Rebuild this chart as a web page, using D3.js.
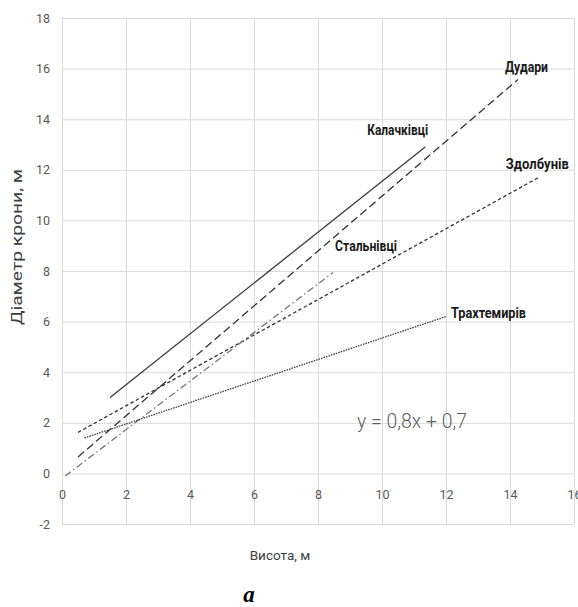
<!DOCTYPE html>
<html>
<head>
<meta charset="utf-8">
<script src="https://cdn.jsdelivr.net/npm/d3@7"></script>
<style>
  body { margin: 0; background: #fff; }
  svg { display: block; }
</style>
</head>
<body>
<figure id="chart" style="margin:0"></figure>
<script>
// tick values
const xTicks = [0, 2, 4, 6, 8, 10, 12, 14, 16];
const yTicks = [-2, 0, 2, 4, 6, 8, 10, 12, 14, 16, 18];

// trend lines: name, start [x, y], end [x, y]
const names = ["Калачківці", "Дудари", "Здолбунів", "Стальнівці", "Трахтемирів"];
const starts = [[1.5, 3.0], [0.5, 0.65], [0.5, 1.62], [0.1, -0.1], [0.7, 1.4]];
const ends = [[11.35, 12.9], [14.25, 15.57], [14.9, 11.7], [8.47, 7.94], [12.0, 6.2]];

const equation = "y = 0,8x + 0,7";

// styling per line (kept apart from the data)
const dashes = [null, "8,4", "3.5,2.5", "7,3,1.5,3", "1.6,1"];
const strokes = ["#3a3a3a", "#333", "#333", "#777", "#444"];
const labelDx = [3, -13, -33, 2, 5];
const labelDy = [-12, -7, -8, -22, 1];
const labelAnchor = ["end", "start", "start", "start", "start"];
const labelLen = [61, 43, 63, 62, 75];

const W = 578, H = 607;
const svg = d3.select("#chart").append("svg")
  .attr("width", W).attr("height", H);
svg.append("rect").attr("width", W).attr("height", H).attr("fill", "#fff");

const x = d3.scaleLinear().domain([0, 16]).range([62, 574]);
const y = d3.scaleLinear().domain([-2, 18]).range([524, 18]);

// gridlines
svg.append("g")
  .attr("transform", "translate(0," + y(-2) + ")")
  .call(d3.axisBottom(x).tickValues(xTicks).tickSize(-(y(-2) - y(18))).tickFormat(""))
  .call(g => g.select(".domain").remove())
  .call(g => g.selectAll("line").attr("stroke", "#d9d9d9"));
svg.append("g")
  .attr("transform", "translate(" + x(0) + ",0)")
  .call(d3.axisLeft(y).tickValues(yTicks).tickSize(-(x(16) - x(0))).tickFormat(""))
  .call(g => g.select(".domain").remove())
  .call(g => g.selectAll("line").attr("stroke", "#d9d9d9"));

// tick labels (plain hyphen for negatives, as in Excel)
const fmt = d => String(d);
svg.append("g")
  .attr("transform", "translate(0," + y(0) + ")")
  .call(d3.axisBottom(x).tickValues(xTicks).tickFormat(fmt).tickSize(0).tickPadding(17))
  .call(g => g.select(".domain").remove())
  .call(g => g.selectAll("text")
    .attr("fill", "#595959")
    .style("font", "12.5px Roboto, sans-serif"));
svg.append("g")
  .attr("transform", "translate(" + x(0) + ",0)")
  .call(d3.axisLeft(y).tickValues(yTicks).tickFormat(fmt).tickSize(0).tickPadding(12))
  .call(g => g.select(".domain").remove())
  .call(g => g.selectAll("text")
    .attr("fill", "#595959")
    .style("font", "12.5px Roboto, sans-serif"));

// lines
const lines = svg.append("g");
names.forEach((n, i) => {
  lines.append("line")
    .attr("x1", x(starts[i][0])).attr("y1", y(starts[i][1]))
    .attr("x2", x(ends[i][0])).attr("y2", y(ends[i][1]))
    .attr("stroke", strokes[i])
    .attr("stroke-width", 1.3)
    .attr("stroke-dasharray", dashes[i]);

  lines.append("text")
    .text(n)
    .attr("x", x(ends[i][0]) + labelDx[i])
    .attr("y", y(ends[i][1]) + labelDy[i])
    .attr("text-anchor", labelAnchor[i])
    .attr("textLength", labelLen[i])
    .attr("lengthAdjust", "spacingAndGlyphs")
    .attr("fill", "#1a1a1a")
    .style("font", "bold 14px Roboto, sans-serif");
});

// equation
svg.append("text")
  .text(equation)
  .attr("x", 357).attr("y", 428)
  .attr("textLength", 110)
  .attr("lengthAdjust", "spacingAndGlyphs")
  .attr("fill", "#5f5f5f")
  .style("font", "300 20px Roboto, sans-serif");

// axis titles
svg.append("text")
  .text("Висота, м")
  .attr("x", 280).attr("y", 560)
  .attr("text-anchor", "middle")
  .attr("fill", "#404040")
  .style("font", "13.5px Roboto, sans-serif");

svg.append("text")
  .text("Діаметр крони, м")
  .attr("transform", "translate(22,247) rotate(-90)")
  .attr("text-anchor", "middle")
  .attr("textLength", 156)
  .attr("lengthAdjust", "spacingAndGlyphs")
  .attr("fill", "#404040")
  .style("font", "15px Roboto, sans-serif");

svg.append("text")
  .text("a")
  .attr("x", 249).attr("y", 602)
  .attr("text-anchor", "middle")
  .attr("fill", "#000")
  .style("font", "italic bold 23px 'Liberation Serif', 'DejaVu Serif', serif");
</script>
</body>
</html>
